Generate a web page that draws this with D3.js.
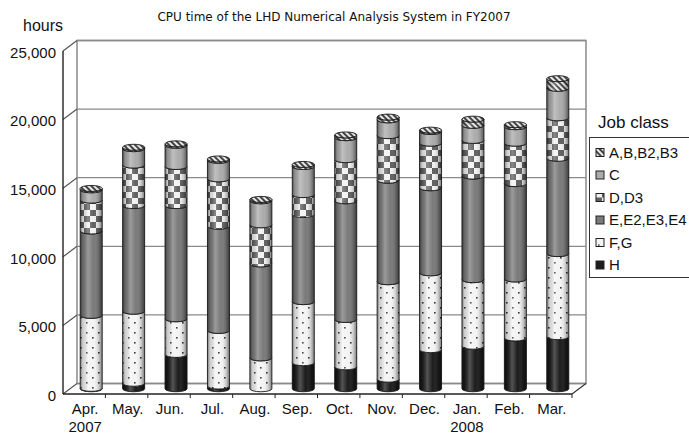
<!DOCTYPE html>
<html>
<head>
<meta charset="utf-8">
<script src="https://cdn.jsdelivr.net/npm/d3@7"></script>
<style>
  body { margin: 0; background: #fff; }
  text { font-family: "Liberation Sans", Arial, sans-serif; fill: #111; }
</style>
</head>
<body>
<div id="chart"></div>
<script>
var months = ["Apr.", "May.", "Jun.", "Jul.", "Aug.", "Sep.", "Oct.", "Nov.", "Dec.", "Jan.", "Feb.", "Mar."];
var yearLabels = ["2007", "", "", "", "", "", "", "", "", "2008", "", ""];
var jobClasses = ["H", "F,G", "E,E2,E3,E4", "D,D3", "C", "A,B,B2,B3"]; // bottom to top

// hours per month for each job class
var classH   = [30, 400, 2500, 200, 0, 1900, 1600, 700, 2850, 3100, 3700, 3800];
var classFG  = [5320, 5250, 2600, 4050, 2250, 4450, 3450, 7100, 5600, 4850, 4300, 6050];
var classE   = [6150, 7700, 8250, 7600, 6850, 6350, 8650, 7400, 6200, 7550, 6950, 6950];
var classD   = [2250, 2950, 2850, 3450, 2850, 1450, 3000, 3250, 3250, 2600, 2950, 2950];
var classC   = [750, 1200, 1550, 1350, 1750, 2050, 1600, 1150, 850, 1100, 1200, 2150];
var classA   = [100, 100, 100, 100, 100, 150, 200, 200, 100, 450, 150, 700];
var yTicks = [0, 5000, 10000, 15000, 20000, 25000];

var width = 689;
var height = 434;
var depthX = 14, depthY = -10.5;   // 3d wall depth
var rx = 11, ry = 3;               // cylinder shape

var seriesByClass = [classH, classFG, classE, classD, classC, classA];
var rows = months.map(function (m, i) {
    var row = { month: m };
    jobClasses.forEach(function (c, k) { row[c] = seriesByClass[k][i]; });
    return row;
});

var svg = d3.select("#chart")
    .append("svg")
    .attr("width", width)
    .attr("height", height);

var x = d3.scaleBand().domain(months).range([63, 572]);
var y = d3.scaleLinear().domain([0, 25000]).range([394, 51]);

// patterns and shading
var defs = svg.append("defs");

var hatch = defs.append("pattern").attr("id", "pat-A")
    .attr("patternUnits", "userSpaceOnUse").attr("width", 4).attr("height", 4)
    .attr("patternTransform", "rotate(-45)");
hatch.append("rect").attr("width", 4).attr("height", 4).attr("fill", "#e8e8e8");
hatch.append("rect").attr("width", 2).attr("height", 4).attr("fill", "#444");

var checker = defs.append("pattern").attr("id", "pat-D")
    .attr("patternUnits", "userSpaceOnUse").attr("width", 12).attr("height", 12);
checker.append("rect").attr("width", 12).attr("height", 12).attr("fill", "#f2f2f2");
checker.append("rect").attr("width", 6).attr("height", 6).attr("fill", "#606060");
checker.append("rect").attr("x", 6).attr("y", 6).attr("width", 6).attr("height", 6).attr("fill", "#606060");

var dots = defs.append("pattern").attr("id", "pat-FG")
    .attr("patternUnits", "userSpaceOnUse").attr("width", 12).attr("height", 10);
dots.append("rect").attr("width", 12).attr("height", 10).attr("fill", "#f4f4f4");
dots.append("rect").attr("x", 2).attr("y", 2).attr("width", 1.6).attr("height", 1.6).attr("fill", "#333");
dots.append("rect").attr("x", 8).attr("y", 7).attr("width", 1.6).attr("height", 1.6).attr("fill", "#333");

var shade = defs.append("linearGradient").attr("id", "shade")
    .attr("x1", 0).attr("x2", 1).attr("y1", 0).attr("y2", 0);
[[0, "#000", 0.5], [0.12, "#000", 0.15], [0.35, "#fff", 0.25], [0.6, "#fff", 0.0], [0.85, "#000", 0.18], [1, "#000", 0.5]]
    .forEach(function (s) {
        shade.append("stop").attr("offset", s[0]).attr("stop-color", s[1]).attr("stop-opacity", s[2]);
    });

var fills = {
    "H": "#1c1c1c",
    "F,G": "url(#pat-FG)",
    "E,E2,E3,E4": "#7a7a7a",
    "D,D3": "url(#pat-D)",
    "C": "#ababab",
    "A,B,B2,B3": "url(#pat-A)"
};

// walls
var walls = svg.append("g").attr("fill", "none");
walls.append("rect")
    .attr("x", 63 + depthX).attr("y", y(25000) + depthY)
    .attr("width", 572 - 63).attr("height", y(0) - y(25000))
    .attr("stroke", "#8a8a8a").attr("stroke-width", 1.5).attr("fill", "#fff");

yTicks.forEach(function (t) {
    walls.append("line")
        .attr("x1", 63 + depthX).attr("x2", 572 + depthX)
        .attr("y1", y(t) + depthY).attr("y2", y(t) + depthY)
        .attr("stroke", "#8a8a8a").attr("stroke-width", 1.3);
    walls.append("line")
        .attr("x1", 63).attr("x2", 63 + depthX)
        .attr("y1", y(t)).attr("y2", y(t) + depthY)
        .attr("stroke", "#555").attr("stroke-width", 1.2);
});
walls.append("line")
    .attr("x1", 572).attr("x2", 572 + depthX)
    .attr("y1", y(0)).attr("y2", y(0) + depthY)
    .attr("stroke", "#333").attr("stroke-width", 1.2);
walls.append("line")
    .attr("x1", 63).attr("x2", 63).attr("y1", y(25000)).attr("y2", y(0))
    .attr("stroke", "#222").attr("stroke-width", 1.4);

// cylinders
var stacked = d3.stack().keys(jobClasses)(rows);
var bars = svg.append("g");

function bodyPath(cx, yb, yt) {
    var l = cx - rx, r = cx + rx;
    return "M" + l + "," + yt + "L" + l + "," + yb +
        "A" + rx + "," + ry + " 0 0 0 " + r + "," + yb +
        "L" + r + "," + yt +
        "A" + rx + "," + ry + " 0 0 1 " + l + "," + yt + "Z";
}

months.forEach(function (m, i) {
    var cx = x(m) + x.bandwidth() / 2 + depthX / 2;
    var off = depthY / 2;
    var g = bars.append("g");
    var topLayer = null;
    stacked.forEach(function (layer) {
        var d = layer[i];
        if (d[1] - d[0] <= 0) return;
        var yb = y(d[0]) + off, yt = y(d[1]) + off;
        g.append("path").attr("d", bodyPath(cx, yb, yt)).attr("fill", fills[layer.key]);
        g.append("path").attr("d", bodyPath(cx, yb, yt)).attr("fill", "url(#shade)")
            .attr("stroke", "#1a1a1a").attr("stroke-width", 0.9);
        topLayer = { key: layer.key, yt: yt };
    });
    g.append("ellipse")
        .attr("cx", cx).attr("cy", topLayer.yt).attr("rx", rx).attr("ry", ry)
        .attr("fill", fills[topLayer.key])
        .attr("stroke", "#1a1a1a").attr("stroke-width", 0.9);
});

// floor front edge and ticks
svg.append("line")
    .attr("x1", 63).attr("x2", 572).attr("y1", y(0)).attr("y2", y(0))
    .attr("stroke", "#222").attr("stroke-width", 1.4);
svg.selectAll(".xtick")
    .data(months.slice(1).concat(["end"]))
    .enter().append("line")
    .attr("x1", d => d === "end" ? 572 : x(d)).attr("x2", d => d === "end" ? 572 : x(d))
    .attr("y1", y(0)).attr("y2", y(0) + 4)
    .attr("stroke", "#222").attr("stroke-width", 1);

// y axis labels
var yAxis = d3.axisLeft(y).tickValues(yTicks).tickFormat(d3.format(",")).tickSize(0).tickPadding(7);
var ya = svg.append("g").attr("transform", "translate(63,0)").call(yAxis);
ya.select(".domain").remove();
ya.selectAll("text")
    .style("font-family", "Liberation Sans, Arial, sans-serif")
    .style("font-size", "15px").attr("fill", "#111").attr("dy", "0.42em");

// x labels
svg.selectAll(".mlabel")
    .data(months).enter().append("text")
    .attr("x", d => x(d) + x.bandwidth() / 2 + 1)
    .attr("y", 414)
    .attr("text-anchor", "middle")
    .style("font-size", "15px")
    .text(d => d);
svg.selectAll(".ylabel")
    .data(yearLabels).enter().append("text")
    .attr("x", (d, i) => x(months[i]) + x.bandwidth() / 2 + 1)
    .attr("y", 432)
    .attr("text-anchor", "middle")
    .style("font-size", "15px")
    .text(d => d);

// titles
svg.append("text")
    .attr("x", 334).attr("y", 21)
    .attr("text-anchor", "middle")
    .style("font-family", "DejaVu Sans, sans-serif")
    .style("font-size", "12px")
    .text("CPU time of the LHD Numerical Analysis System in FY2007");

svg.append("text")
    .attr("x", 23).attr("y", 31)
    .style("font-size", "16px")
    .text("hours");

// legend
svg.append("text")
    .attr("x", 598).attr("y", 128)
    .style("font-size", "17px")
    .text("Job class");

svg.append("rect")
    .attr("x", 589.5).attr("y", 137.5).attr("width", 120).attr("height", 140)
    .attr("fill", "#fff").attr("stroke", "#333").attr("stroke-width", 1);

var legend = svg.append("g")
    .selectAll("g")
    .data(jobClasses.slice().reverse())
    .enter().append("g")
    .attr("transform", (d, i) => "translate(596," + (152.5 + i * 22.5) + ")");

legend.append("rect")
    .attr("x", 0).attr("y", -4).attr("width", 8).attr("height", 8)
    .attr("fill", d => fills[d])
    .attr("stroke", "#222").attr("stroke-width", 1);

legend.append("text")
    .attr("x", 13).attr("y", 0).attr("dy", "0.36em")
    .style("font-size", "15px")
    .text(d => d);
</script>
</body>
</html>
